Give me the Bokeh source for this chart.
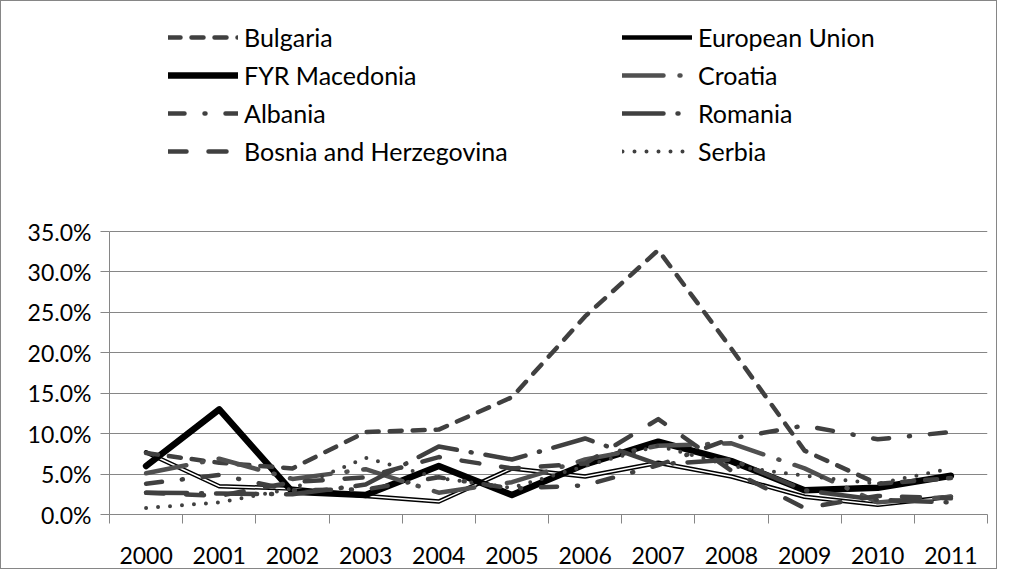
from bokeh.plotting import figure
from bokeh.models import Range1d, FixedTicker, CustomJSTickFormatter, Legend, LegendItem
from bokeh.embed import file_html
from bokeh.resources import INLINE

years = [2000, 2001, 2002, 2003, 2004, 2005, 2006, 2007, 2008, 2009, 2010, 2011]
y_ticks = [0, 5, 10, 15, 20, 25, 30, 35]

bulgaria = [7.6, 6.4, 5.7, 10.2, 10.5, 14.5, 24.5, 32.7, 20.5, 7.9, 3.8, 4.5]
european_union = [7.7, 3.5, 3.2, 2.3, 1.6, 5.7, 4.7, 6.4, 4.7, 2.2, 1.2, 2.2]
fyr_macedonia = [6.0, 13.0, 2.8, 2.4, 6.0, 2.4, 6.2, 9.0, 6.6, 3.0, 3.3, 4.8]
croatia = [5.1, 6.9, 4.4, 5.6, 2.7, 4.0, 6.8, 8.5, 8.8, 5.7, 1.5, 2.2]
albania = [3.8, 4.9, 3.0, 3.1, 4.6, 3.2, 3.6, 6.1, 9.4, 11.0, 9.3, 10.2]
romania = [2.7, 2.6, 2.5, 3.7, 8.4, 6.8, 9.4, 6.2, 6.8, 3.0, 1.8, 1.5]
bosnia = [2.7, 2.3, 4.0, 4.6, 7.1, 5.7, 6.3, 11.8, 5.4, 0.8, 2.3, 2.0]
serbia = [0.8, 1.5, 3.2, 7.0, 4.5, 3.3, 6.0, 8.5, 6.0, 4.8, 3.8, 5.7]

FONT = "Lato"
AXIS_FS = "23px"
LEGEND_FS = "25px"
GRID = "#868686"
DARK = "#404040"

# layout (pixels inside the figure)
W, H = 997, 569
LEFT, RIGHT = 108, 986          # plot area x extent
AXIS_TOP, BOTTOM = 230, 513     # y of top gridline (35%) and of 0%
TOP = 2                         # frame top (legend lives above the gridded area)
px_per_unit = (BOTTOM - AXIS_TOP) / (y_ticks[-1] - y_ticks[0])
y_top = y_ticks[-1] + (AXIS_TOP - TOP) / px_per_unit

p = figure(width=W, height=H, output_backend="svg", toolbar_location=None,
           x_range=Range1d(years[0] - 0.5, years[-1] + 0.5), y_range=Range1d(y_ticks[0], y_top),
           min_border_left=LEFT, min_border_right=W - RIGHT, min_border_top=TOP,
           min_border_bottom=H - BOTTOM)
p.background_fill_color = "white"
p.border_fill_color = "white"
p.outline_line_color = None
p.styles = {"border": "1px solid #868686"}

# axes
p.xaxis.ticker = FixedTicker(ticks=years, minor_ticks=[y - 0.5 for y in years] + [years[-1] + 0.5])
p.xaxis.major_label_overrides = {y: str(y) for y in years}
p.xaxis.major_tick_line_color = None
p.xaxis.major_tick_out = 0
p.xaxis.minor_tick_line_color = GRID
p.xaxis.minor_tick_out = 9
p.xaxis.minor_tick_in = 0
p.xaxis.axis_line_color = GRID
p.xaxis.major_label_standoff = 23
p.yaxis.ticker = FixedTicker(ticks=y_ticks)
p.yaxis.bounds = (y_ticks[0], y_ticks[-1])
p.yaxis.formatter = CustomJSTickFormatter(code="return tick.toFixed(1) + '%';")
p.yaxis.major_tick_out = 9
p.yaxis.major_tick_in = 0
p.yaxis.major_tick_line_color = GRID
p.yaxis.minor_tick_line_color = None
p.yaxis.axis_line_color = GRID
p.yaxis.major_label_standoff = 9
for ax in (p.xaxis, p.yaxis):
    ax.major_label_text_font = FONT
    ax.major_label_text_font_size = AXIS_FS
    ax.major_label_text_color = "black"
p.xgrid.visible = False
p.ygrid.ticker = FixedTicker(ticks=y_ticks)
p.ygrid.grid_line_color = GRID
p.ygrid.grid_line_width = 1

common = dict(line_cap="round", line_join="round")
r_eu = p.line(years, european_union, line_color="black", line_width=4.5, **common)
r_eu_in = p.line(years, european_union, line_color="white", line_width=1.5, **common)
r_fyr = p.line(years, fyr_macedonia, line_color="black", line_width=6.5, **common)
r_bul = p.line(years, bulgaria, line_color=DARK, line_width=4.5, line_dash="12 11", **common)
r_cro = p.line(years, croatia, line_color="#505050", line_width=4.5, line_dash="41 16 1 16", **common)
r_alb = p.line(years, albania, line_color=DARK, line_width=4.5, line_dash="16 20 1 20", **common)
r_rom = p.line(years, romania, line_color=DARK, line_width=4.5, line_dash="41 14 1 14", **common)
r_bos = p.line(years, bosnia, line_color=DARK, line_width=4.5, line_dash="18 22", **common)
r_ser = p.line(years, serbia, line_color=DARK, line_width=4, line_dash="0 12", **common)

def make_legend(items, x, y):
    lg = Legend(items=items, location=(x, y))
    lg.label_text_font = FONT
    lg.label_text_font_size = LEGEND_FS
    lg.label_text_color = "black"
    lg.glyph_width = 70
    lg.glyph_height = 20
    lg.spacing = 8
    lg.padding = 0
    lg.margin = 0
    lg.label_standoff = 6
    lg.border_line_color = None
    lg.background_fill_alpha = 0
    return lg

left_items = [LegendItem(label="Bulgaria", renderers=[r_bul]),
              LegendItem(label="FYR Macedonia", renderers=[r_fyr]),
              LegendItem(label="Albania", renderers=[r_alb]),
              LegendItem(label="Bosnia and Herzegovina", renderers=[r_bos])]
right_items = [LegendItem(label="European Union", renderers=[r_eu]),
               LegendItem(label="Croatia", renderers=[r_cro]),
               LegendItem(label="Romania", renderers=[r_rom]),
               LegendItem(label="Serbia", renderers=[r_ser])]

p.add_layout(make_legend(left_items, 59, 348))
p.add_layout(make_legend(right_items, 513, 348))

open("out.html", "w").write(file_html(p, INLINE))
